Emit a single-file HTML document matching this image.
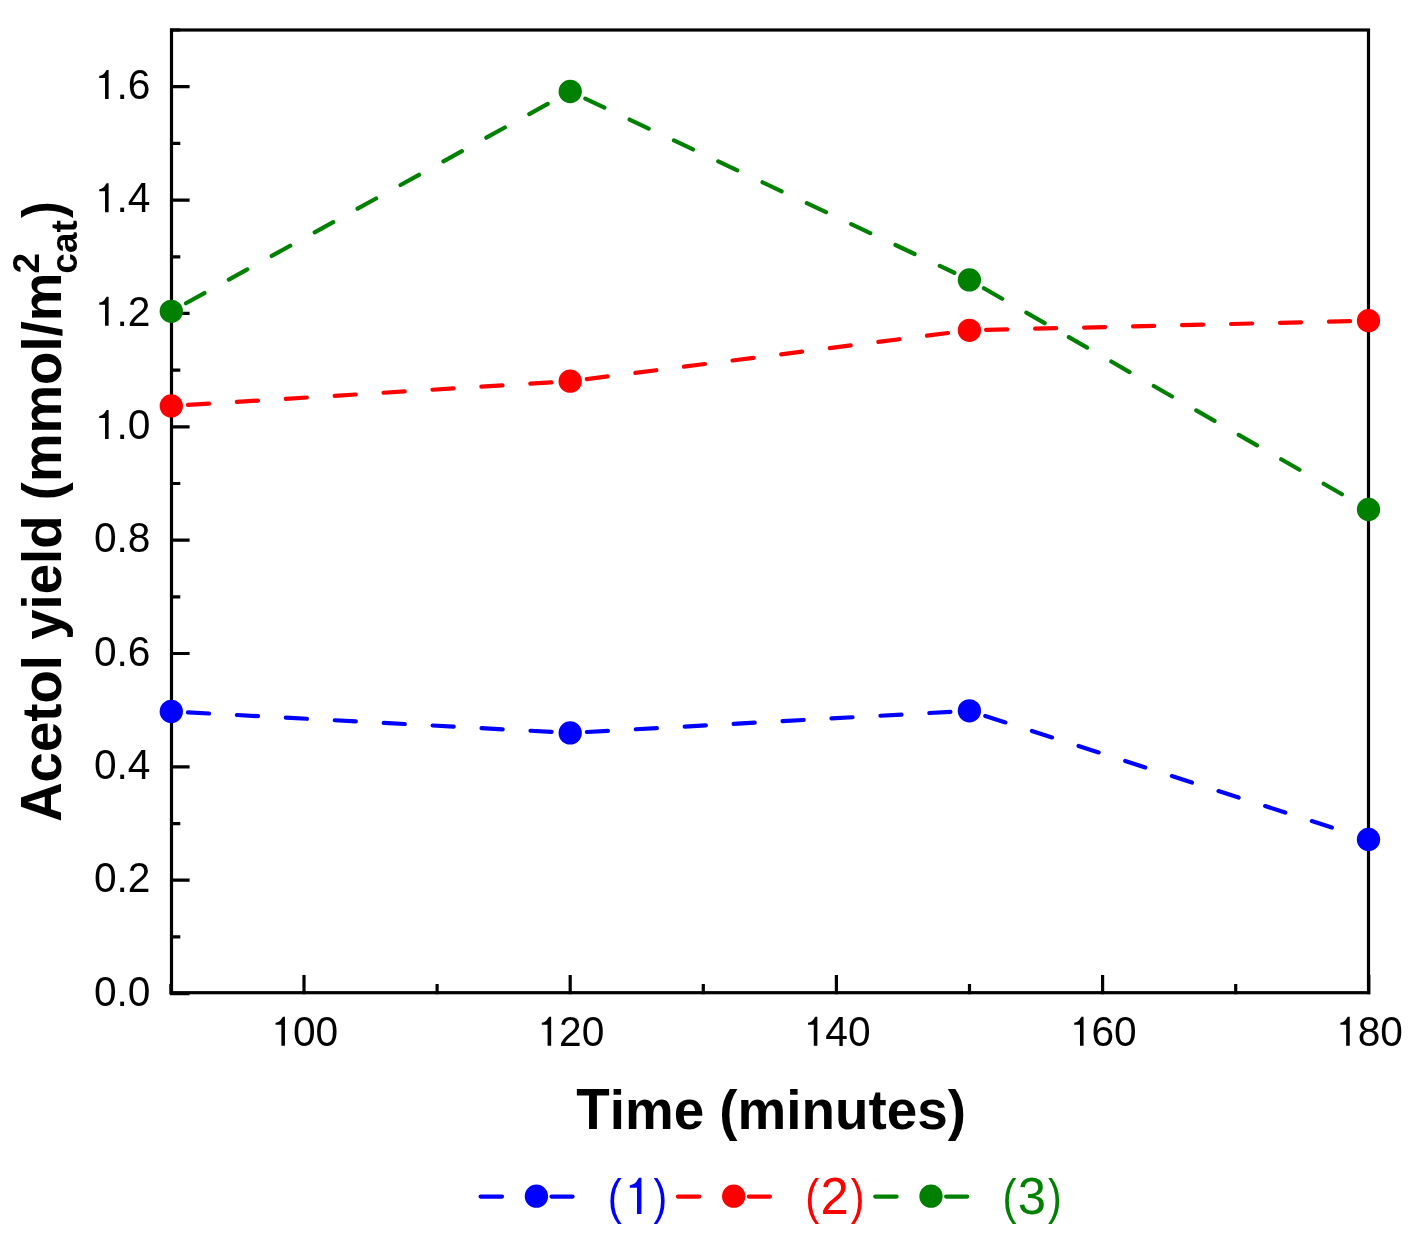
<!DOCTYPE html>
<html><head><meta charset="utf-8"><style>
html,body{margin:0;padding:0;background:#fff;}
svg{display:block;will-change:transform;}
text{font-family:"Liberation Sans",sans-serif;}
</style></head><body>
<svg width="1428" height="1240" viewBox="0 0 1428 1240">
<rect x="171.5" y="30.0" width="1197.0" height="962.7" fill="none" stroke="#000" stroke-width="3.2"/>
<path d="M170.0 993.6H189.6 M170.0 936.9H180.3 M170.0 880.2H189.6 M170.0 823.6H180.3 M170.0 766.9H189.6 M170.0 710.2H180.3 M170.0 653.5H189.6 M170.0 596.8H180.3 M170.0 540.2H189.6 M170.0 483.5H180.3 M170.0 426.8H189.6 M170.0 370.1H180.3 M170.0 313.4H189.6 M170.0 256.8H180.3 M170.0 200.1H189.6 M170.0 143.4H180.3 M170.0 86.7H189.6 M170.0 30.0H180.3 M170.9 994.2V983.9 M304.0 994.2V974.9 M437.1 994.2V983.9 M570.2 994.2V974.9 M703.3 994.2V983.9 M836.4 994.2V974.9 M969.5 994.2V983.9 M1102.6 994.2V974.9 M1235.7 994.2V983.9 M1368.8 994.2V974.9" stroke="#000" stroke-width="3.2" fill="none"/>
<text transform="translate(93.92 1005.80) scale(1 1.05)" style="font-size:40.7px;font-weight:normal" fill="#000">0</text><text transform="translate(116.56 1005.80)" style="font-size:40.7px;font-weight:normal" fill="#000">.</text><text transform="translate(127.86 1005.80) scale(1 1.05)" style="font-size:40.7px;font-weight:normal" fill="#000">0</text>
<text transform="translate(93.92 892.44) scale(1 1.05)" style="font-size:40.7px;font-weight:normal" fill="#000">0</text><text transform="translate(116.56 892.44)" style="font-size:40.7px;font-weight:normal" fill="#000">.</text><text transform="translate(127.86 892.44) scale(1 1.05)" style="font-size:40.7px;font-weight:normal" fill="#000">2</text>
<text transform="translate(93.92 779.08) scale(1 1.05)" style="font-size:40.7px;font-weight:normal" fill="#000">0</text><text transform="translate(116.56 779.08)" style="font-size:40.7px;font-weight:normal" fill="#000">.</text><text transform="translate(127.86 779.08) scale(1 1.05)" style="font-size:40.7px;font-weight:normal" fill="#000">4</text>
<text transform="translate(93.92 665.72) scale(1 1.05)" style="font-size:40.7px;font-weight:normal" fill="#000">0</text><text transform="translate(116.56 665.72)" style="font-size:40.7px;font-weight:normal" fill="#000">.</text><text transform="translate(127.86 665.72) scale(1 1.05)" style="font-size:40.7px;font-weight:normal" fill="#000">6</text>
<text transform="translate(93.92 552.36) scale(1 1.05)" style="font-size:40.7px;font-weight:normal" fill="#000">0</text><text transform="translate(116.56 552.36)" style="font-size:40.7px;font-weight:normal" fill="#000">.</text><text transform="translate(127.86 552.36) scale(1 1.05)" style="font-size:40.7px;font-weight:normal" fill="#000">8</text>
<path d="M740 0L560 0L560 1057L268 1057L268 1162C420 1185 525 1250 575 1370L640 1460L740 1460Z" transform="translate(93.92 439.00) scale(0.01987 -0.01987)" fill="#000"/><text transform="translate(116.56 439.00)" style="font-size:40.7px;font-weight:normal" fill="#000">.</text><text transform="translate(127.86 439.00) scale(1 1.05)" style="font-size:40.7px;font-weight:normal" fill="#000">0</text>
<path d="M740 0L560 0L560 1057L268 1057L268 1162C420 1185 525 1250 575 1370L640 1460L740 1460Z" transform="translate(93.92 325.64) scale(0.01987 -0.01987)" fill="#000"/><text transform="translate(116.56 325.64)" style="font-size:40.7px;font-weight:normal" fill="#000">.</text><text transform="translate(127.86 325.64) scale(1 1.05)" style="font-size:40.7px;font-weight:normal" fill="#000">2</text>
<path d="M740 0L560 0L560 1057L268 1057L268 1162C420 1185 525 1250 575 1370L640 1460L740 1460Z" transform="translate(93.92 212.28) scale(0.01987 -0.01987)" fill="#000"/><text transform="translate(116.56 212.28)" style="font-size:40.7px;font-weight:normal" fill="#000">.</text><text transform="translate(127.86 212.28) scale(1 1.05)" style="font-size:40.7px;font-weight:normal" fill="#000">4</text>
<path d="M740 0L560 0L560 1057L268 1057L268 1162C420 1185 525 1250 575 1370L640 1460L740 1460Z" transform="translate(93.92 98.92) scale(0.01987 -0.01987)" fill="#000"/><text transform="translate(116.56 98.92)" style="font-size:40.7px;font-weight:normal" fill="#000">.</text><text transform="translate(127.86 98.92) scale(1 1.05)" style="font-size:40.7px;font-weight:normal" fill="#000">6</text>
<path d="M740 0L560 0L560 1057L268 1057L268 1162C420 1185 525 1250 575 1370L640 1460L740 1460Z" transform="translate(270.25 1045.80) scale(0.01987 -0.01987)" fill="#000"/><text transform="translate(292.88 1045.80) scale(1 1.05)" style="font-size:40.7px;font-weight:normal" fill="#000">0</text><text transform="translate(315.52 1045.80) scale(1 1.05)" style="font-size:40.7px;font-weight:normal" fill="#000">0</text>
<path d="M740 0L560 0L560 1057L268 1057L268 1162C420 1185 525 1250 575 1370L640 1460L740 1460Z" transform="translate(536.45 1045.80) scale(0.01987 -0.01987)" fill="#000"/><text transform="translate(559.08 1045.80) scale(1 1.05)" style="font-size:40.7px;font-weight:normal" fill="#000">2</text><text transform="translate(581.72 1045.80) scale(1 1.05)" style="font-size:40.7px;font-weight:normal" fill="#000">0</text>
<path d="M740 0L560 0L560 1057L268 1057L268 1162C420 1185 525 1250 575 1370L640 1460L740 1460Z" transform="translate(802.65 1045.80) scale(0.01987 -0.01987)" fill="#000"/><text transform="translate(825.28 1045.80) scale(1 1.05)" style="font-size:40.7px;font-weight:normal" fill="#000">4</text><text transform="translate(847.92 1045.80) scale(1 1.05)" style="font-size:40.7px;font-weight:normal" fill="#000">0</text>
<path d="M740 0L560 0L560 1057L268 1057L268 1162C420 1185 525 1250 575 1370L640 1460L740 1460Z" transform="translate(1068.85 1045.80) scale(0.01987 -0.01987)" fill="#000"/><text transform="translate(1091.48 1045.80) scale(1 1.05)" style="font-size:40.7px;font-weight:normal" fill="#000">6</text><text transform="translate(1114.12 1045.80) scale(1 1.05)" style="font-size:40.7px;font-weight:normal" fill="#000">0</text>
<path d="M740 0L560 0L560 1057L268 1057L268 1162C420 1185 525 1250 575 1370L640 1460L740 1460Z" transform="translate(1335.05 1045.80) scale(0.01987 -0.01987)" fill="#000"/><text transform="translate(1357.68 1045.80) scale(1 1.05)" style="font-size:40.7px;font-weight:normal" fill="#000">8</text><text transform="translate(1380.32 1045.80) scale(1 1.05)" style="font-size:40.7px;font-weight:normal" fill="#000">0</text>
<text transform="translate(576.20 1128.60) scale(1 1.05)" style="font-size:54.8px;font-weight:bold" fill="#000">T</text><text transform="translate(609.67 1128.60)" style="font-size:54.8px;font-weight:bold" fill="#000">i</text><text transform="translate(624.90 1128.60)" style="font-size:54.8px;font-weight:bold" fill="#000">m</text><text transform="translate(673.63 1128.60)" style="font-size:54.8px;font-weight:bold" fill="#000">e</text><text transform="translate(719.33 1128.60)" style="font-size:54.8px;font-weight:bold" fill="#000">(</text><text transform="translate(737.58 1128.60)" style="font-size:54.8px;font-weight:bold" fill="#000">m</text><text transform="translate(786.30 1128.60)" style="font-size:54.8px;font-weight:bold" fill="#000">i</text><text transform="translate(801.53 1128.60)" style="font-size:54.8px;font-weight:bold" fill="#000">n</text><text transform="translate(835.00 1128.60)" style="font-size:54.8px;font-weight:bold" fill="#000">u</text><text transform="translate(868.48 1128.60)" style="font-size:54.8px;font-weight:bold" fill="#000">t</text><text transform="translate(886.72 1128.60)" style="font-size:54.8px;font-weight:bold" fill="#000">e</text><text transform="translate(917.20 1128.60)" style="font-size:54.8px;font-weight:bold" fill="#000">s</text><text transform="translate(947.68 1128.60)" style="font-size:54.8px;font-weight:bold" fill="#000">)</text>
<g transform="rotate(-90)">
<text transform="translate(-821.86 61.40) scale(1 1.05)" style="font-size:54.6px;font-weight:bold" fill="#000">A</text><text transform="translate(-782.43 61.40)" style="font-size:54.6px;font-weight:bold" fill="#000">c</text><text transform="translate(-752.06 61.40)" style="font-size:54.6px;font-weight:bold" fill="#000">e</text><text transform="translate(-721.70 61.40)" style="font-size:54.6px;font-weight:bold" fill="#000">t</text><text transform="translate(-703.52 61.40)" style="font-size:54.6px;font-weight:bold" fill="#000">o</text><text transform="translate(-670.16 61.40)" style="font-size:54.6px;font-weight:bold" fill="#000">l</text><text transform="translate(-639.82 61.40)" style="font-size:54.6px;font-weight:bold" fill="#000">y</text><text transform="translate(-609.46 61.40)" style="font-size:54.6px;font-weight:bold" fill="#000">i</text><text transform="translate(-594.29 61.40)" style="font-size:54.6px;font-weight:bold" fill="#000">e</text><text transform="translate(-563.92 61.40)" style="font-size:54.6px;font-weight:bold" fill="#000">l</text><text transform="translate(-548.75 61.40)" style="font-size:54.6px;font-weight:bold" fill="#000">d</text><text transform="translate(-500.23 61.40)" style="font-size:54.6px;font-weight:bold" fill="#000">(</text><text transform="translate(-482.05 61.40)" style="font-size:54.6px;font-weight:bold" fill="#000">m</text><text transform="translate(-433.50 61.40)" style="font-size:54.6px;font-weight:bold" fill="#000">m</text><text transform="translate(-384.95 61.40)" style="font-size:54.6px;font-weight:bold" fill="#000">o</text><text transform="translate(-351.60 61.40)" style="font-size:54.6px;font-weight:bold" fill="#000">l</text><text transform="translate(-336.43 61.40)" style="font-size:54.6px;font-weight:bold" fill="#000">/</text><text transform="translate(-321.26 61.40)" style="font-size:54.6px;font-weight:bold" fill="#000">m</text>
<text transform="translate(-273.60 39.10)" style="font-size:37px;font-weight:bold" fill="#000">2</text>
<text transform="translate(-273.70 77.20)" style="font-size:37px;font-weight:bold" fill="#000">c</text><text transform="translate(-253.12 77.20)" style="font-size:37px;font-weight:bold" fill="#000">a</text><text transform="translate(-232.54 77.20)" style="font-size:37px;font-weight:bold" fill="#000">t</text>
<text transform="translate(-210.93 61.45) scale(0.92 1.0) translate(-7.76 0)" style="font-size:54.6px;font-weight:bold" fill="#000">)</text>
</g>
<g stroke="#0000ff" stroke-width="4.2" stroke-linecap="round" stroke-dasharray="21.1 27.9"><line x1="187.98" y1="712.39" x2="553.52" y2="732.01"/><line x1="586.87" y1="731.98" x2="952.73" y2="711.72"/><line x1="985.30" y1="715.92" x2="1352.60" y2="834.28"/></g>
<g stroke="#ff0000" stroke-width="4.2" stroke-linecap="round" stroke-dasharray="21.1 27.9"><line x1="187.97" y1="404.87" x2="553.53" y2="382.23"/><line x1="586.77" y1="379.09" x2="952.83" y2="332.41"/><line x1="986.10" y1="329.90" x2="1351.80" y2="321.10"/></g>
<g stroke="#008000" stroke-width="4.2" stroke-linecap="round" stroke-dasharray="21.1 27.9"><line x1="185.93" y1="303.24" x2="555.57" y2="99.56"/><line x1="585.30" y1="98.63" x2="954.30" y2="272.77"/><line x1="983.88" y1="288.23" x2="1354.02" y2="501.17"/></g>
<g fill="#0000ff"><circle cx="171.3" cy="711.5" r="11.65"/><circle cx="570.2" cy="732.9" r="11.65"/><circle cx="969.4" cy="710.8" r="11.65"/><circle cx="1368.5" cy="839.4" r="11.65"/></g>
<g fill="#ff0000"><circle cx="171.3" cy="405.9" r="11.65"/><circle cx="570.2" cy="381.2" r="11.65"/><circle cx="969.4" cy="330.3" r="11.65"/><circle cx="1368.5" cy="320.7" r="11.65"/></g>
<g fill="#008000"><circle cx="171.3" cy="311.3" r="11.65"/><circle cx="570.2" cy="91.5" r="11.65"/><circle cx="969.4" cy="279.9" r="11.65"/><circle cx="1368.5" cy="509.5" r="11.65"/></g>
<path d="M480.6 1196.6000000000001H502.0M551.5 1196.6000000000001H572.6" stroke="#0000ff" stroke-width="4.2" stroke-linecap="round"/>
<circle cx="536.4" cy="1196.2" r="11.65" fill="#0000ff"/>
<text transform="translate(616.07 1214.00) scale(0.83 1.0) translate(-9.88 0)" style="font-size:50.8px;font-weight:normal" fill="#0000ff">(</text><path d="M740 0L560 0L560 1057L268 1057L268 1162C420 1185 525 1250 575 1370L640 1460L740 1460Z" transform="translate(623.10 1214.00) scale(0.02480 -0.02480)" fill="#0000ff"/><text transform="translate(659.18 1214.00) scale(0.81 1.0) translate(-7.03 0)" style="font-size:50.8px;font-weight:normal" fill="#0000ff">)</text>
<path d="M677.9 1196.6000000000001H699.3M748.8 1196.6000000000001H769.9" stroke="#ff0000" stroke-width="4.2" stroke-linecap="round"/>
<circle cx="733.7" cy="1196.2" r="11.65" fill="#ff0000"/>
<text transform="translate(813.37 1214.00) scale(0.83 1.0) translate(-9.88 0)" style="font-size:50.8px;font-weight:normal" fill="#ff0000">(</text><text transform="translate(820.40 1214.00) scale(1 1.03)" style="font-size:50.8px;font-weight:normal" fill="#ff0000">2</text><text transform="translate(856.48 1214.00) scale(0.81 1.0) translate(-7.03 0)" style="font-size:50.8px;font-weight:normal" fill="#ff0000">)</text>
<path d="M875.2 1196.6000000000001H896.6M946.1 1196.6000000000001H967.2" stroke="#008000" stroke-width="4.2" stroke-linecap="round"/>
<circle cx="931.0" cy="1196.2" r="11.65" fill="#008000"/>
<text transform="translate(1010.67 1214.00) scale(0.83 1.0) translate(-9.88 0)" style="font-size:50.8px;font-weight:normal" fill="#008000">(</text><text transform="translate(1017.70 1214.00) scale(1 1.03)" style="font-size:50.8px;font-weight:normal" fill="#008000">3</text><text transform="translate(1053.78 1214.00) scale(0.81 1.0) translate(-7.03 0)" style="font-size:50.8px;font-weight:normal" fill="#008000">)</text>
</svg>
</body></html>
